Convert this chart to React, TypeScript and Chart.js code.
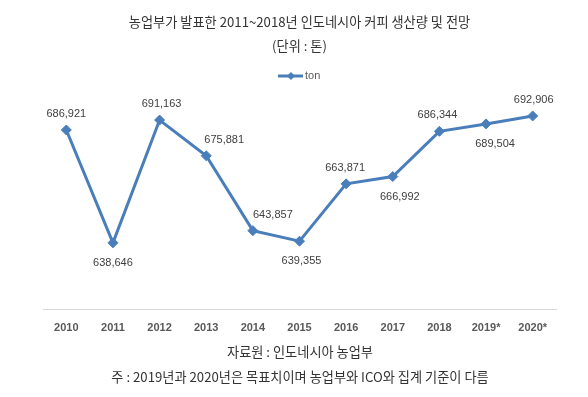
import { useEffect, useRef } from "react";
import { Chart, registerables } from "chart.js";

Chart.register(...registerables);

const TITLE = "농업부가 발표한 2011~2018년 인도네시아 커피 생산량 및 전망";
const SUBTITLE = "(단위 : 톤)";
const SERIES_NAME = "ton";
const YEARS = ["2010", "2011", "2012", "2013", "2014", "2015", "2016", "2017", "2018", "2019*", "2020*"];
const PRODUCTION = [686921, 638646, 691163, 675881, 643857, 639355, 663871, 666992, 686344, 689504, 692906];
const SOURCE_NOTE = "자료원 : 인도네시아 농업부";
const FOOT_NOTE = "주 : 2019년과 2020년은 목표치이며 농업부와 ICO와 집계 기준이 다름";

// label placement (styling only)
const LABEL_SIDE = ["above", "below", "above", "above", "above", "below", "above", "below", "above", "below", "above"];
const LABEL_DX = [0, 0, 2, 18, 20, 2, -1, 7, -2, 9, 1];

const BLUE = "#4A7EBB";
const KFONT = "'Noto Sans CJK KR', 'Noto Sans', sans-serif";

export default function App() {
  const ref = useRef<HTMLCanvasElement | null>(null);

  useEffect(() => {
    if (!ref.current) return;

    const extras = {
      id: "extras",
      afterDatasetsDraw(chart: any) {
        const ctx = chart.ctx;
        const meta = chart.getDatasetMeta(0);
        ctx.save();
        ctx.font = "11px 'Liberation Sans', Arial, sans-serif";
        ctx.fillStyle = "#404040";
        ctx.textAlign = "center";
        ctx.textBaseline = "middle";
        meta.data.forEach((pt: any, i: number) => {
          const v = PRODUCTION[i];
          const txt = v.toLocaleString("en-US");
          const dy = LABEL_SIDE[i] === "above" ? -16 : 20;
          ctx.fillText(txt, pt.x + LABEL_DX[i], pt.y + dy);
        });
        ctx.restore();
      },
      afterDraw(chart: any) {
        const ctx = chart.ctx;
        ctx.save();
        // legend
        const ly = 76;
        ctx.strokeStyle = BLUE;
        ctx.lineWidth = 3;
        ctx.beginPath();
        ctx.moveTo(278, ly);
        ctx.lineTo(303, ly);
        ctx.stroke();
        ctx.fillStyle = BLUE;
        ctx.beginPath();
        ctx.moveTo(291, ly - 4);
        ctx.lineTo(295, ly);
        ctx.lineTo(291, ly + 4);
        ctx.lineTo(287, ly);
        ctx.closePath();
        ctx.fill();
        ctx.fillStyle = "#595959";
        ctx.font = "11px 'Liberation Sans', Arial, sans-serif";
        ctx.textAlign = "left";
        ctx.textBaseline = "middle";
        ctx.fillText(SERIES_NAME, 305, ly);
        // footers
        ctx.fillStyle = "#333333";
        ctx.font = "13.2px " + KFONT;
        ctx.textAlign = "center";
        ctx.fillText(SOURCE_NOTE, 300, 352);
        ctx.fillText(FOOT_NOTE, 300, 377);
        ctx.restore();
      },
    };

    const chart = new Chart(ref.current, {
      type: "line",
      data: {
        labels: YEARS,
        datasets: [
          {
            label: SERIES_NAME,
            data: PRODUCTION,
            borderColor: BLUE,
            backgroundColor: BLUE,
            borderWidth: 3,
            pointStyle: "rectRot",
            pointRadius: 5,
            pointBackgroundColor: BLUE,
            pointBorderColor: BLUE,
            pointBorderWidth: 1,
            tension: 0,
          },
        ],
      },
      options: {
        responsive: false,
        animation: false,
        layout: { padding: { left: 43, right: 32, top: 0, bottom: 50 } },
        scales: {
          x: {
            offset: true,
            grid: { display: false, drawTicks: false },
            border: { display: true, color: "#d9d9d9", width: 1 },
            ticks: {
              padding: 12,
              color: "#595959",
              font: { family: "'Liberation Sans', Arial, sans-serif", size: 11, weight: "bold" },
            },
          },
          y: { display: false, min: 610000, max: 700000 },
        },
        plugins: {
          legend: { display: false },
          tooltip: { enabled: false },
          title: {
            display: true,
            text: TITLE,
            color: "#333333",
            font: { family: KFONT, size: 13.2, weight: "normal", lineHeight: 1.2 },
            padding: { top: 14, bottom: 8 },
          },
          subtitle: {
            display: true,
            text: SUBTITLE,
            color: "#333333",
            font: { family: KFONT, size: 13.2, weight: "normal", lineHeight: 1.2 },
            padding: { top: 0, bottom: 45.7 },
          },
        },
      },
      plugins: [extras],
    });

    return () => chart.destroy();
  }, []);

  return (
    <div style={{ position: "fixed", left: 0, top: 0, width: 588, height: 397, background: "#fff" }}>
      <canvas ref={ref} width={588} height={397} style={{ display: "block" }} />
    </div>
  );
}
